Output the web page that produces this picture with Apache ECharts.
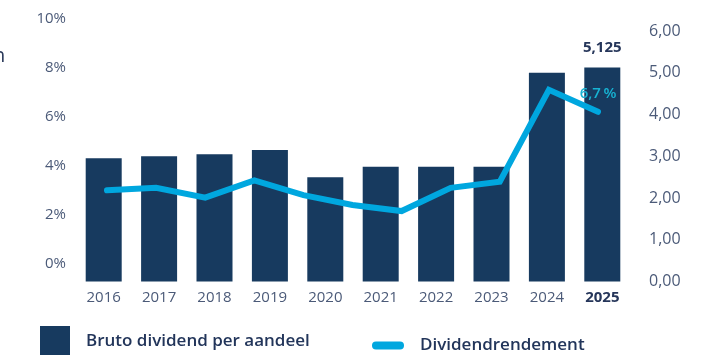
<!DOCTYPE html>
<html>
<head>
<meta charset="utf-8">
<script src="https://cdn.jsdelivr.net/npm/echarts@6/dist/echarts.min.js"></script>
<style>
  html, body { margin: 0; padding: 0; background: #ffffff; }
  #chart { width: 714px; height: 355px; }
</style>
</head>
<body>
<div id="chart"></div>
<script>
// Years on the category axis
const years = ['2016', '2017', '2018', '2019', '2020', '2021', '2022', '2023', '2024', '2025'];
// Gross dividend per share (EUR)
const dividend = [2.95, 3.00, 3.05, 3.15, 2.50, 2.75, 2.75, 2.75, 5.00, 5.125];
// Dividend yield (%), the line's vertices
const dividendYield = [3.5, 3.6, 3.2, 3.9, 3.3, 2.9, 2.65, 3.6, 3.85, 7.6, 6.7];
// Axis tick settings
const yieldTicks = { min: 0, max: 10, interval: 2 };
const dividendTicks = { min: 0, max: 6, interval: 1 };

const NAVY = '#173a5f';
const CYAN = '#00a7df';
const TEXT = '#4b5a78';
const FONT = '"Open Sans", "Noto Sans", sans-serif';

const fmtComma = (v, d) => v.toFixed(d).replace('.', ',');

const chart = echarts.init(document.getElementById('chart'), null, { renderer: 'canvas' });

const barData = dividend.map((v, i) => {
  if (i === dividend.length - 1) {
    return {
      value: v,
      label: {
        show: true, position: 'top', distance: 12,
        formatter: p => fmtComma(p.value, 3),
        color: '#26365a', fontFamily: FONT, fontWeight: 'bold', fontSize: 15
      }
    };
  }
  return v;
});

const lineData = dividendYield.map((v, i) => {
  if (i === dividendYield.length - 1) {
    return {
      value: v,
      label: {
        show: true, position: 'top', distance: 11, offset: [3, 0],
        formatter: p => fmtComma(p.value, 1) + '\u2009%',
        color: '#17b3d3', fontFamily: FONT, fontWeight: 600, fontSize: 15
      }
    };
  }
  return v;
});

const option = {
  animation: false,
  backgroundColor: '#ffffff',
  textStyle: { fontFamily: FONT },
  graphic: [{
    type: 'text', left: -7, top: 46,
    style: { text: 'n', font: '20px ' + FONT, fill: '#2b3a5a' }
  }],
  legend: [{
    data: ['Bruto dividend per aandeel'],
    left: 40, top: 326, padding: 0,
    icon: 'rect', itemWidth: 30, itemHeight: 30,
    textStyle: { color: '#22355a', fontFamily: FONT, fontWeight: 600, fontSize: 17, padding: [5, 0, 0, 11] },
    selectedMode: false
  }, {
    data: [{ name: 'Dividendrendement', icon: 'path://M4,0 L28,0 A4,4 0 0 1 28,8 L4,8 A4,4 0 0 1 4,0 Z' }],
    left: 372, top: 337, padding: 0,
    itemWidth: 32, itemHeight: 8,
    textStyle: { color: '#22355a', fontFamily: FONT, fontWeight: 600, fontSize: 17, padding: [3, 0, 0, 11] },
    selectedMode: false
  }],
  grid: [
    // bars and the dividend axis
    { left: 76, right: 84, top: 31, bottom: 73.5 },
    // yield line
    { left: 107, right: 116, top: 31, bottom: 79 },
    // percentage tick labels
    { left: 76, right: 84, top: 19, bottom: 91 }
  ],
  xAxis: [{
    gridIndex: 0, type: 'category', data: years,
    axisLine: { show: false }, axisTick: { show: false },
    axisLabel: {
      interval: 0, margin: 9, color: TEXT, fontSize: 15, fontFamily: FONT,
      formatter: (v, i) => i === years.length - 1 ? '{b|' + v + '}' : v,
      rich: { b: { fontWeight: 'bold', color: '#26365a', fontSize: 15, fontFamily: FONT } }
    }
  }, {
    gridIndex: 1, type: 'category', boundaryGap: false, show: false
  }, {
    gridIndex: 2, type: 'value', show: false, min: 0, max: 1
  }],
  yAxis: [{
    gridIndex: 0, type: 'value', position: 'right',
    min: dividendTicks.min, max: dividendTicks.max, interval: dividendTicks.interval,
    splitLine: { show: false }, axisLine: { show: false }, axisTick: { show: false },
    axisLabel: { margin: 19, color: TEXT, fontSize: 16, fontFamily: FONT, formatter: v => fmtComma(v, 2) }
  }, {
    gridIndex: 1, type: 'value', show: false, min: yieldTicks.min, max: yieldTicks.max
  }, {
    gridIndex: 2, type: 'value', position: 'left',
    min: yieldTicks.min, max: yieldTicks.max, interval: yieldTicks.interval,
    splitLine: { show: false }, axisLine: { show: false }, axisTick: { show: false },
    axisLabel: { margin: 10, color: TEXT, fontSize: 15, fontFamily: FONT, formatter: '{value}%' }
  }],
  series: [{
    name: 'Bruto dividend per aandeel', type: 'bar',
    xAxisIndex: 0, yAxisIndex: 0,
    data: barData, barWidth: 36,
    itemStyle: { color: NAVY }
  }, {
    name: 'Dividendrendement', type: 'line',
    xAxisIndex: 1, yAxisIndex: 1,
    data: lineData, showSymbol: true, symbol: 'circle', symbolSize: 0.1,
    itemStyle: { color: CYAN },
    lineStyle: { color: CYAN, width: 6, cap: 'round', join: 'miter' },
    labelLayout: { hideOverlap: false },
    z: 5
  }]
};

chart.setOption(option);
</script>
</body>
</html>
